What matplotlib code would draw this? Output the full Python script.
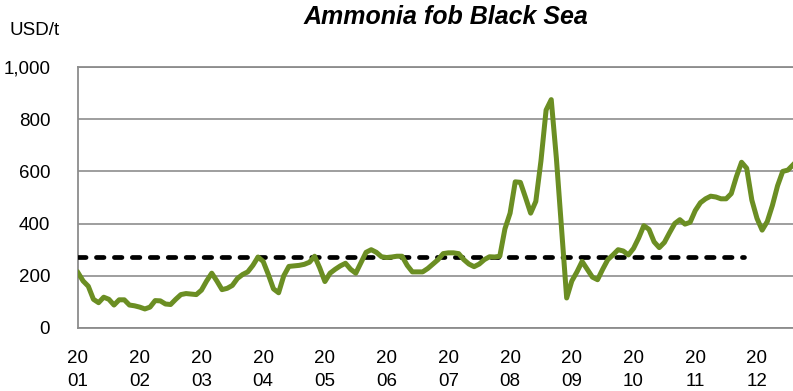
import numpy as np
import matplotlib
matplotlib.use("Agg")
import matplotlib.pyplot as plt
from matplotlib.ticker import FuncFormatter

plt.rcParams['font.family'] = ['Liberation Sans', 'DejaVu Sans']

# Prix mensuel, janvier 2001 -> aout 2012 (USD/t)
prix = [
    212, 180, 160, 110, 97, 118, 110, 88, 108, 108, 88, 85,          # 2001
    80, 73, 80, 105, 104, 92, 90, 110, 128, 132, 130, 128,           # 2002
    145, 180, 210, 180, 147, 152, 163, 190, 205, 215, 240, 272,      # 2003
    255, 205, 150, 135, 200, 236, 238, 240, 244, 252, 275, 230,      # 2004
    178, 210, 225, 238, 248, 225, 210, 250, 290, 300, 290, 273,      # 2005
    270, 272, 275, 275, 240, 215, 215, 215, 228, 245, 262, 285,      # 2006
    288, 288, 285, 262, 245, 235, 245, 262, 273, 272, 275, 380,      # 2007
    440, 560, 558, 500, 440, 485, 640, 835, 875, 650, 380, 115,      # 2008
    180, 215, 255, 225, 195, 185, 225, 262, 280, 300, 295, 280,      # 2009
    305, 345, 392, 378, 330, 308, 328, 365, 400, 415, 398, 405,      # 2010
    450, 480, 495, 505, 502, 495, 495, 515, 580, 635, 612, 490,      # 2011
    420, 375, 408, 470, 545, 600, 605, 625,                          # 2012
]
moyenne = 273          # moyenne sur la periode (ligne pointillee)
fin_moyenne = 129.5    # fin de la ligne pointillee (en mois)
annees = ["20\n%02d" % a for a in range(1, 13)]

mois = np.arange(len(prix))

fig = plt.figure(figsize=(7.93, 3.91), dpi=100)
ax = fig.add_axes([78 / 793, 1 - 328 / 391, 1 - 78 / 793, (328 - 67) / 391])

ax.plot([0, fin_moyenne], [moyenne, moyenne], color="black", lw=3.4,
        dashes=[1.6, 2.2], dash_capstyle="round", zorder=3)
ax.plot(mois, prix, color="#6B8E23", lw=3.6, solid_joinstyle="round", zorder=4)

ax.set_xlim(0, len(prix) - 1)
ax.set_ylim(0, 1000)
ax.set_yticks(np.arange(0, 1001, 200))
ax.yaxis.set_major_formatter(FuncFormatter(lambda v, p: "{:,.0f}".format(v)))
ax.set_xticks(np.arange(0, len(prix), 12))
ax.set_xticklabels(annees, linespacing=1.45)
ax.tick_params(axis="y", length=0, pad=20, labelsize=13.5)
ax.tick_params(axis="x", length=0, pad=16, labelsize=13.5)

ax.grid(axis="y", color="#969696", lw=1.3)
ax.set_axisbelow(True)
for cote in ["left", "bottom", "top"]:
    ax.spines[cote].set_color("#8c8c8c")
    ax.spines[cote].set_linewidth(1.3)
ax.spines["right"].set_visible(False)

fig.text(0.562, 0.957, "Ammonia fob Black Sea", ha="center", va="center",
         fontsize=18, fontweight="bold", fontstyle="italic")
fig.text(0.012, 0.922, "USD/t", ha="left", va="center", fontsize=13.5)

fig.savefig("out.png", dpi=100)
